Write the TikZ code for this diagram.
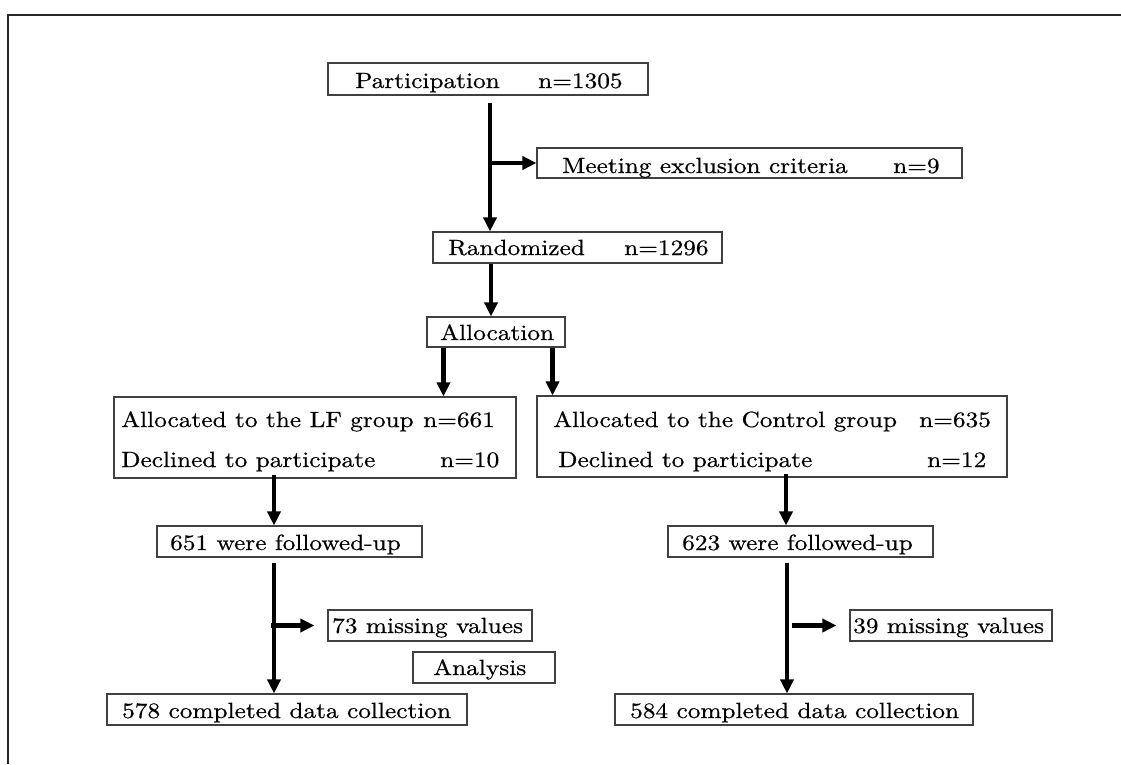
\documentclass[tikz,border=0pt]{standalone}
\usepackage{fontspec}
\newfontfamily\widerm[FakeStretch=1.15,FakeBold=0.6]{lmroman10-regular.otf}
\usetikzlibrary{arrows.meta,calc}
\begin{document}
\begin{tikzpicture}[x=1pt,y=-1pt,
  box/.style={draw=black!75,line width=1.1pt,inner sep=0pt,rectangle},
  txt/.style={anchor=base west,inner sep=0pt,font=\widerm\fontsize{22}{26}\selectfont},
  arr/.style={line width=4.5pt,-{Triangle[length=14pt,width=13pt]}},
  frame/.style={line width=2pt,black!85}]
\useasboundingbox (0,0) rectangle (1121,764);
\draw[frame] (8,764) -- (8,15) -- (1121,15);
% boxes
\newcommand{\bx}[5]{\node[box,minimum width={#4-#2},minimum height={#5-#3}] (#1) at ({(#2+#4)/2},{(#3+#5)/2}) {};}
\bx{part}{328}{63}{648}{95}
\bx{meet}{537}{148}{962}{178}
\bx{rand}{433}{232}{722}{263}
\bx{alloc}{427}{317}{565}{347}
\bx{lf}{114}{397}{516}{478}
\bx{ctrl}{537}{396}{1007}{477}
\bx{fa}{157}{526}{422}{557}
\bx{ma}{328}{610}{532}{641}
\bx{anal}{413}{652}{555}{683}
\bx{ca}{107}{694}{467}{725}
\bx{fb}{668}{526}{933}{557}
\bx{mb}{850}{610}{1052}{641}
\bx{cb}{615}{694}{973}{725}
% texts
\node[txt] (t1) at (355,88) {Participation};
\node[txt] (t1n) at (538,88) {n=1305};
\node[txt] (t2) at (562,173) {Meeting exclusion criteria};
\node[txt] (t2n) at (893,173) {n=9};
\node[txt] (t3) at (448,255) {Randomized};
\node[txt] (t3n) at (624,255) {n=1296};
\node[txt] (t4) at (440,340) {Allocation};
\node[txt] (t5) at (121,427) {Allocated to the LF group};
\node[txt] (t5n) at (423,427) {n=661};
\node[txt] (t6) at (121,467) {Declined to participate};
\node[txt] (t6n) at (440,467) {n=10};
\node[txt] (t7) at (553,427) {Allocated to the Control group};
\node[txt] (t7n) at (919,427) {n=635};
\node[txt] (t8) at (558,467) {Declined to participate};
\node[txt] (t8n) at (927,467) {n=12};
\node[txt] (t9) at (170,550) {651 were followed-up};
\node[txt] (t10) at (332,633) {73 missing values};
\node[txt] (t11) at (433,675) {Analysis};
\node[txt] (t12) at (122,718) {578 completed data collection};
\node[txt] (t13) at (682,550) {623 were followed-up};
\node[txt] (t14) at (853,633) {39 missing values};
\node[txt] (t15) at (630,718) {584 completed data collection};
% connectors
\draw[arr,shorten <=7pt] ([xshift=2pt]part.south) -- ([xshift=2pt]part.south |- rand.north);
\draw[arr] ([xshift=2pt]meet.west -| part.south) -- (meet.west);
\draw[arr] ([xshift=-5pt]alloc.north |- rand.south) -- ([xshift=-5pt]alloc.north);
\draw[arr] ([xshift=17pt]alloc.south west) -- ([xshift=17pt]alloc.south west |- lf.north);
\draw[arr] ([xshift=-13pt]alloc.south east) -- ([xshift=-13pt]alloc.south east |- ctrl.north);
\draw[arr,shorten <=-4pt] ([xshift=-15.5pt]fa.north |- lf.south) -- ([xshift=-15.5pt]fa.north);
\draw[arr,shorten <=5pt] ([xshift=-15.5pt]fa.south) -- ([xshift=-15.5pt]fa.south |- ca.north);
\draw[arr,shorten >=13pt] ([xshift=-18.5pt]fa.south |- ma.west) -- (ma.west);
\draw[arr,shorten <=-4pt] ([xshift=-14.5pt]fb.north |- ctrl.south) -- ([xshift=-14.5pt]fb.north);
\draw[arr,shorten <=5pt] ([xshift=-13.5pt]fb.south) -- ([xshift=-13.5pt]fb.south |- cb.north);
\draw[arr,shorten <=5pt,shorten >=13pt] ([xshift=-13.5pt]fb.south |- mb.west) -- (mb.west);
\end{tikzpicture}
\end{document}
